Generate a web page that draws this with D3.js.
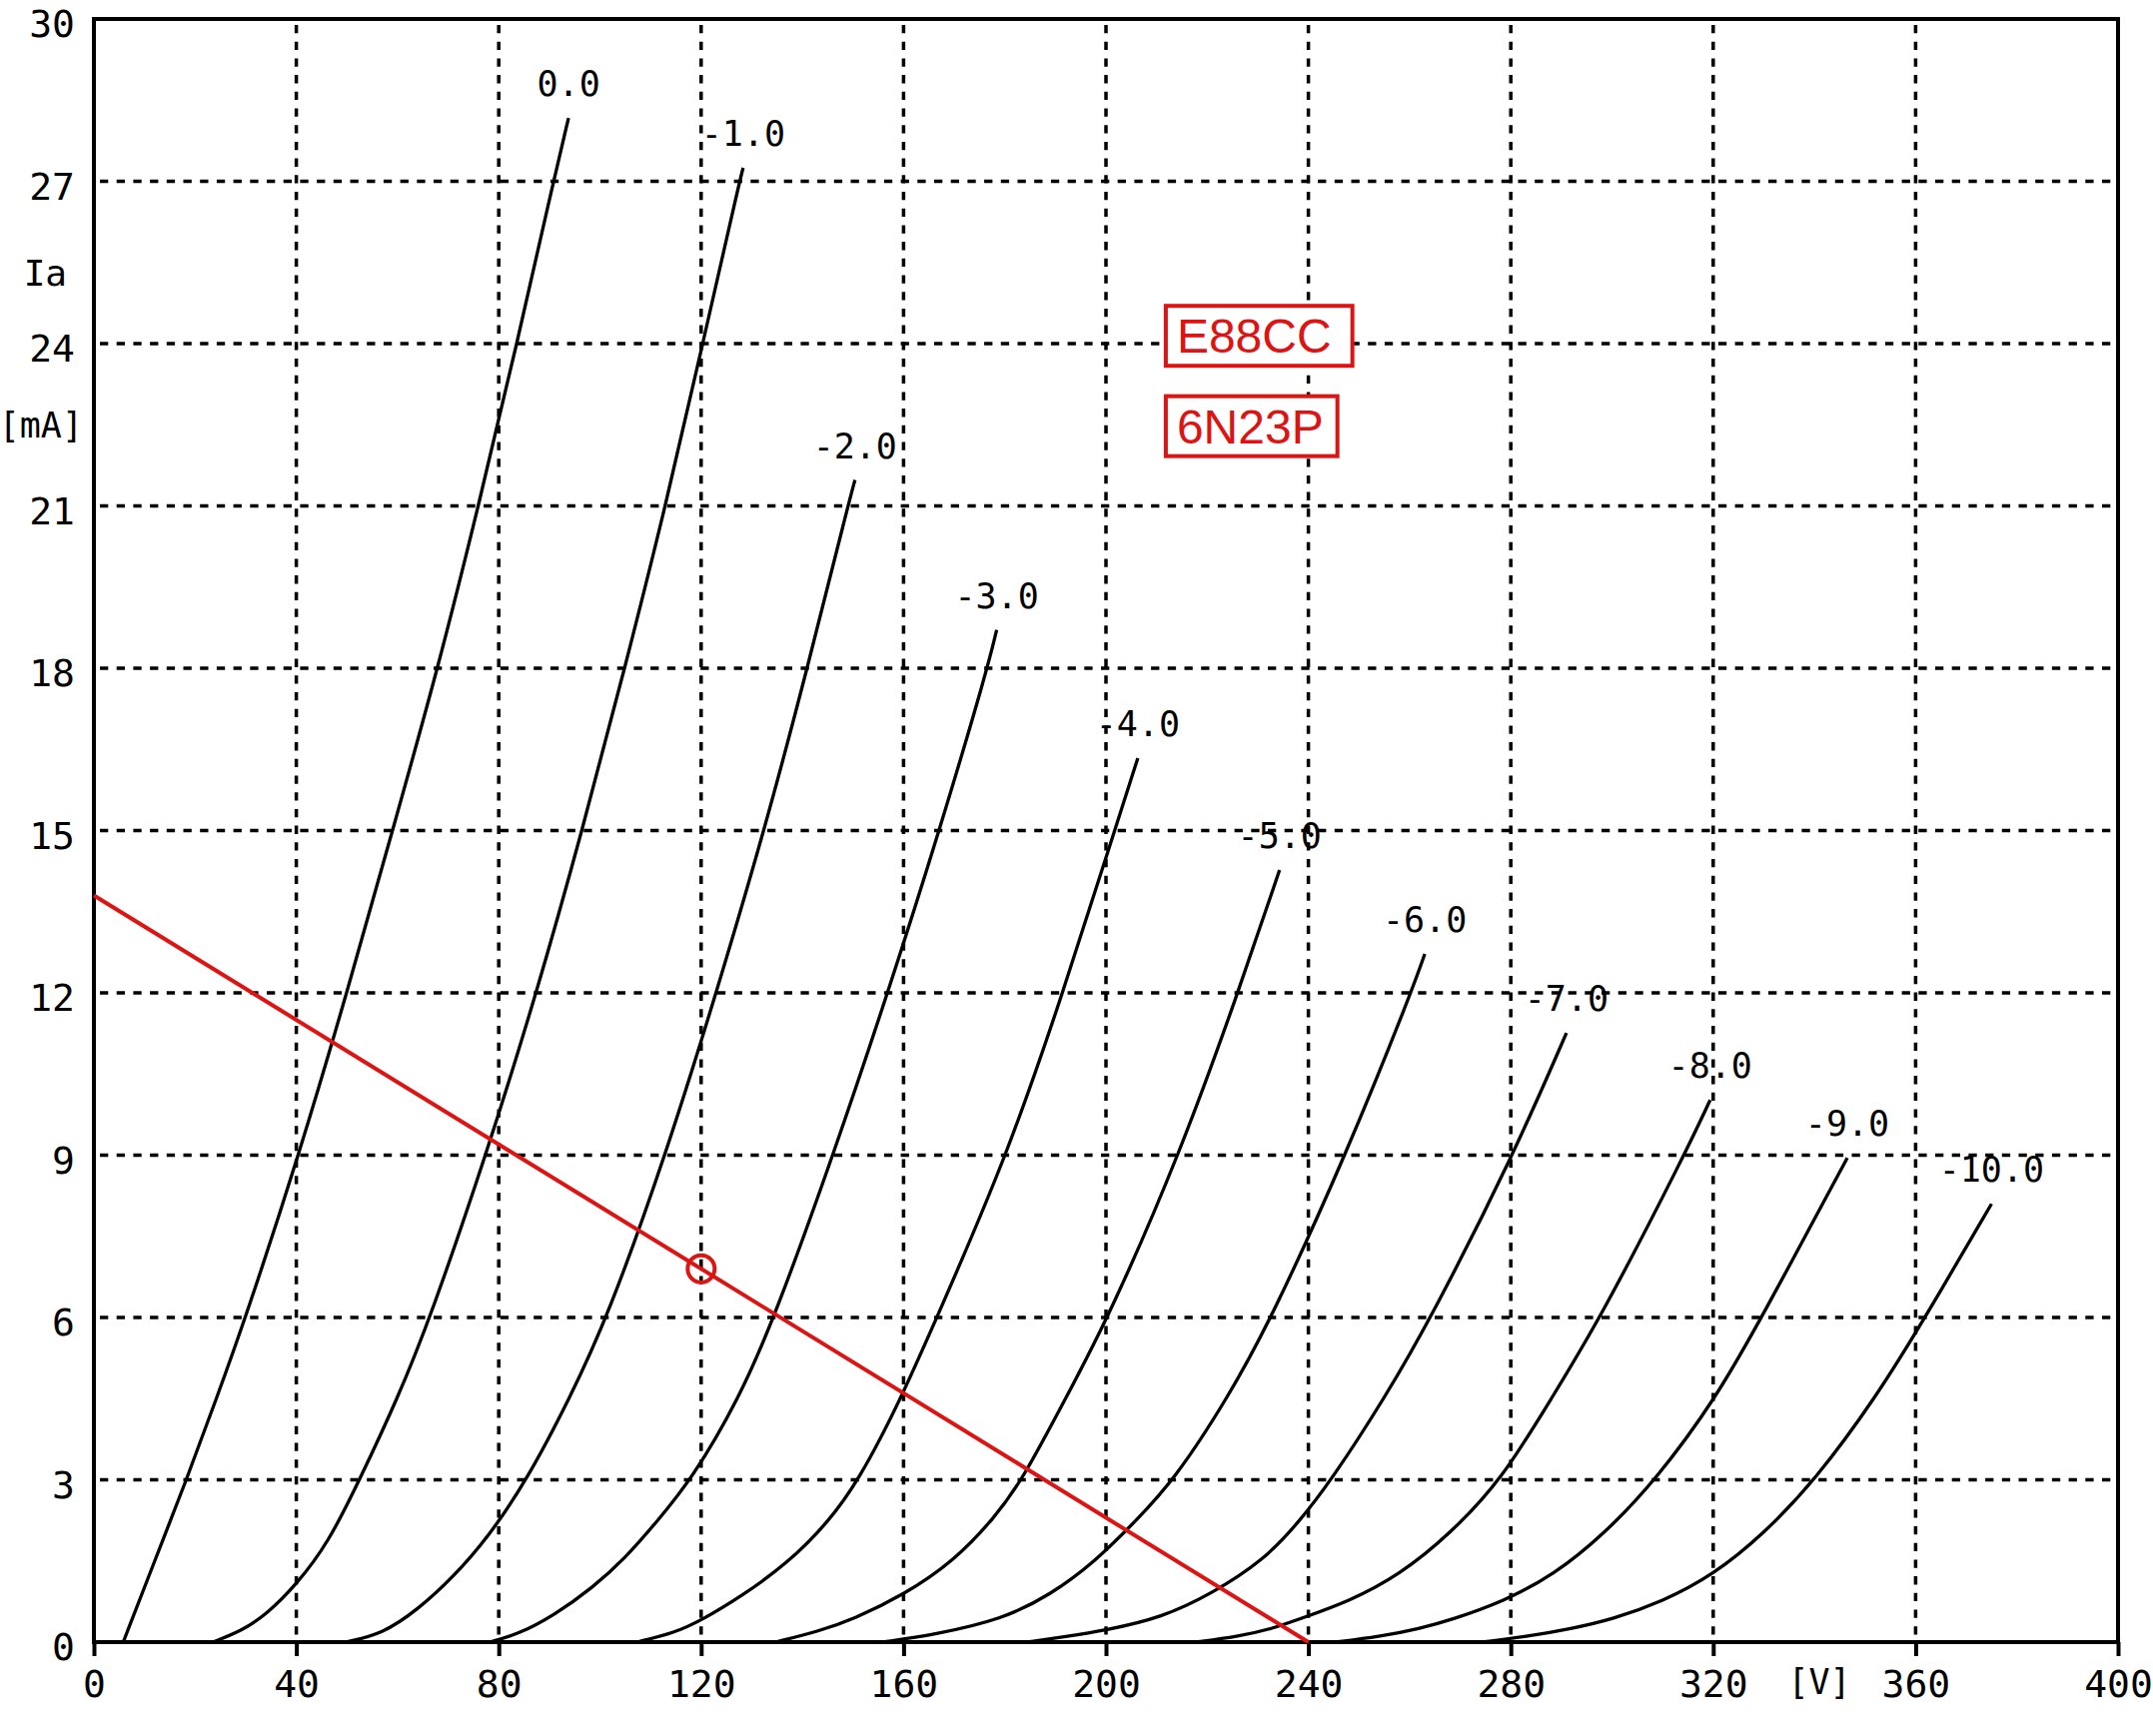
<!DOCTYPE html>
<html><head><meta charset="utf-8">
<script src="https://cdn.jsdelivr.net/npm/d3@7"></script>
<style>body{margin:0;background:#fff;} svg{display:block;}</style>
</head><body>
<svg id="chart" width="2155" height="1738"></svg>
<script>
// ---- data ----
const xTicks = [0, 40, 80, 120, 160, 200, 240, 280, 320, 360, 400];
const yTicks = [0, 3, 6, 9, 12, 15, 18, 21, 24, 27, 30];
const gridLabels = ["0.0", "-1.0", "-2.0", "-3.0", "-4.0", "-5.0", "-6.0", "-7.0", "-8.0", "-9.0", "-10.0"];

const curveG0  = [[5.8,0],[5.8,0],[12,1.5],[18.3,3],[24.2,4.5],[30,6],[40.5,9],[50,12],[59,15],[68,18],[76,21],[83.6,24],[90.8,27],[93.8,28.17]];
const curveG1  = [[23.5,0],[29,0.2],[34,0.5],[40,1.06],[46.3,1.83],[52.5,3],[60,4.5],[66.5,6],[77.5,9],[87.5,12],[96.5,15],[104.9,18],[113,21],[120.3,24],[127.6,27],[128.3,27.25]];
const curveG2  = [[49.7,0],[57,0.15],[64,0.6],[71,1.2],[78,1.95],[85.6,3],[94,4.5],[101.5,6],[113,9],[123,12],[132.5,15],[141,18],[149,21],[150.4,21.48]];
const curveG3  = [[78.2,0],[84,0.15],[91,0.5],[98.5,1.0],[105,1.55],[111,2.2],[118.1,3],[127.5,4.5],[134.5,6],[146.1,9],[156.9,12],[167.1,15],[176.6,18],[178.4,18.71]];
const curveG4  = [[107.3,0],[114.7,0.17],[120,0.4],[128,0.85],[137,1.45],[145,2.2],[151.2,3],[159,4.4],[166.6,6],[180.5,9],[191.5,12],[201.7,15],[206.3,16.34]];
const curveG5  = [[134.7,0],[143.2,0.2],[150,0.42],[160,0.87],[170,1.5],[178,2.3],[183.5,3],[192,4.5],[200.5,6],[214.5,9],[226.1,12],[234.3,14.27]];
const curveG6  = [[155.8,0],[166,0.135],[179.5,0.42],[189,0.87],[198,1.5],[206,2.25],[213.5,3],[224,4.5],[232.8,6],[247.4,9],[260.3,12],[263,12.72]];
const curveG7  = [[184.4,0],[192,0.1],[200,0.22],[211,0.45],[221,0.9],[231,1.5],[238,2.2],[244.6,3],[255,4.5],[264.3,6],[280.5,9],[291,11.26]];
const curveG8  = [[217.7,0],[226,0.1],[233,0.25],[238,0.42],[248,0.75],[258,1.24],[268,2],[278.2,3],[288,4.5],[297.8,6],[314.3,9],[319.4,10.02]];
const curveG9  = [[245.3,0],[254,0.1],[262,0.25],[268.5,0.42],[278.5,0.75],[288.5,1.24],[298.5,2],[308.7,3],[320.5,4.5],[329.6,6],[346.5,8.95]];
const curveG10 = [[274.3,0],[283,0.1],[292,0.25],[300,0.42],[310,0.75],[320,1.24],[330,2],[340.2,3],[352,4.5],[361.9,6],[375,8.1]];
const curves = [curveG0, curveG1, curveG2, curveG3, curveG4, curveG5, curveG6, curveG7, curveG8, curveG9, curveG10];

const loadLine = [[0, 13.8], [240, 0]];
const operatingPoint = [120, 6.9];
const tubeNames = ["E88CC", "6N23P"];
const tubeNameAnchors = [[214, 23.83], [214, 22.16]];

// ---- drawing ----
const W = 2155, H = 1738;
const M = {left: 94, right: 35, top: 19, bottom: 94};
const svg = d3.select("#chart");
const x = d3.scaleLinear().domain([0, 400]).range([M.left, W - M.right]);
const y = d3.scaleLinear().domain([0, 30]).range([H - M.bottom, M.top]);
const RED = "#dc1414";
const MONO = "'DejaVu Sans Mono', 'Liberation Mono', monospace";

svg.append("rect").attr("width", W).attr("height", H).attr("fill", "#fff");

// grid
const grid = svg.append("g");
grid.selectAll("line.v").data(xTicks.filter(d => d > 0 && d < 400)).join("line")
  .attr("x1", d => x(d)).attr("x2", d => x(d))
  .attr("y1", y(30)).attr("y2", y(0))
  .attr("stroke", "#000").attr("stroke-width", 3.5)
  .attr("stroke-dasharray", "8.3,8.4").attr("stroke-dashoffset", 10.7);
grid.selectAll("line.h").data(yTicks.filter(d => d > 0 && d < 30)).join("line")
  .attr("x1", x(0)).attr("x2", x(400))
  .attr("y1", d => y(d)).attr("y2", d => y(d))
  .attr("stroke", "#000").attr("stroke-width", 3.5)
  .attr("stroke-dasharray", "8.3,8.4").attr("stroke-dashoffset", 10.7);

// axes
const xAxis = d3.axisBottom(x).tickValues(xTicks).tickSize(14).tickPadding(14).tickFormat(d3.format("d"));
const gx = svg.append("g").attr("transform", `translate(0,${y(0)})`).call(xAxis);
gx.select(".domain").remove();
gx.selectAll(".tick line").attr("stroke", "#000").attr("stroke-width", 4);
gx.selectAll(".tick text").attr("font-family", MONO).attr("font-size", 38).attr("fill", "#000");

const yAxis = d3.axisLeft(y).tickValues(yTicks).tickSize(0).tickPadding(19).tickFormat(d3.format("d"));
const gy = svg.append("g").attr("transform", `translate(${x(0)},0)`).call(yAxis);
gy.select(".domain").remove();
gy.selectAll(".tick text").attr("font-family", MONO).attr("font-size", 38).attr("fill", "#000").attr("dy", "0.47em");

// frame
svg.append("rect").attr("x", x(0)).attr("y", y(30))
  .attr("width", x(400) - x(0)).attr("height", y(0) - y(30))
  .attr("fill", "none").attr("stroke", "#000").attr("stroke-width", 4);

// axis unit labels
svg.append("text").attr("x", 67).attr("y", 273).attr("dy", "0.36em")
  .attr("text-anchor", "end").attr("font-family", MONO).attr("font-size", 36).text("Ia");
svg.append("text").attr("x", 83).attr("y", 425).attr("dy", "0.36em")
  .attr("text-anchor", "end").attr("font-family", MONO).attr("font-size", 35).text("[mA]");
svg.append("text").attr("x", 1821).attr("y", 1683).attr("dy", "0.36em")
  .attr("text-anchor", "middle").attr("font-family", MONO).attr("font-size", 35).text("[V]");

// curves
const line = d3.line().x(d => x(d[0])).y(d => y(d[1])).curve(d3.curveBasis);
svg.append("g").selectAll("path").data(curves).join("path")
  .attr("d", line).attr("fill", "none").attr("stroke", "#000").attr("stroke-width", 3.3)
  .attr("stroke-linejoin", "round");

svg.append("g").selectAll("text").data(curves).join("text")
  .attr("x", d => x(d[d.length - 1][0]))
  .attr("y", d => y(d[d.length - 1][1]) - 22)
  .attr("text-anchor", "middle").attr("font-family", MONO).attr("font-size", 35).attr("fill", "#000")
  .text((d, i) => gridLabels[i]);

// load line & operating point
svg.append("path").datum(loadLine).attr("d", d3.line().x(d => x(d[0])).y(d => y(d[1])))
  .attr("fill", "none").attr("stroke", RED).attr("stroke-width", 4);
svg.append("circle").attr("cx", x(operatingPoint[0])).attr("cy", y(operatingPoint[1])).attr("r", 13.5)
  .attr("fill", "none").attr("stroke", RED).attr("stroke-width", 4);

// tube names
const rightPad = [21, 14];
tubeNames.forEach((name, i) => {
  const g = svg.append("g");
  const t = g.append("text").attr("x", x(tubeNameAnchors[i][0])).attr("y", y(tubeNameAnchors[i][1]))
    .attr("font-family", "'Liberation Sans', Arial, sans-serif").attr("font-size", 48)
    .attr("fill", RED).text(name);
  const bb = t.node().getBBox();
  const baseY = y(tubeNameAnchors[i][1]);
  g.insert("rect", "text").attr("x", bb.x - 11).attr("y", baseY - 47)
    .attr("width", bb.width + 11 + rightPad[i]).attr("height", 60)
    .attr("fill", "#fff").attr("stroke", RED).attr("stroke-width", 4);
});
</script>
</body></html>
